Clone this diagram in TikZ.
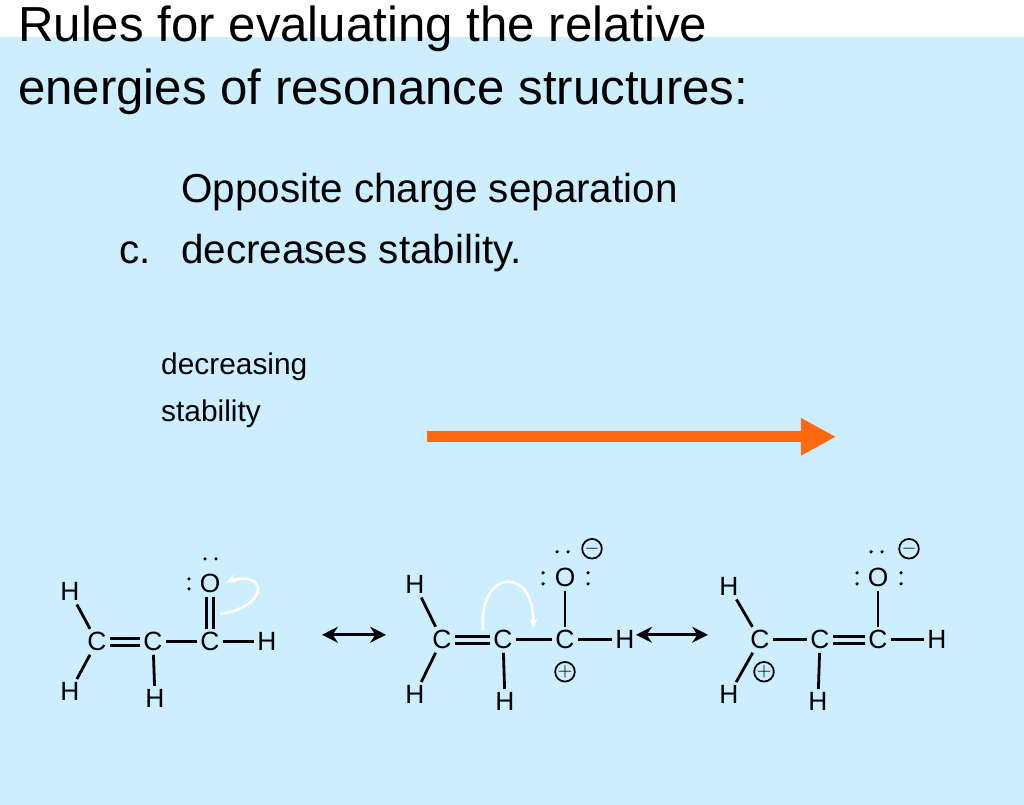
\documentclass[tikz,border=0pt]{standalone}
\usepackage{fontspec}
\setmainfont{Liberation Sans}
\usetikzlibrary{arrows.meta}
\definecolor{bgblue}{HTML}{CCEEFF}
\definecolor{arroworange}{HTML}{FF6A10}

\begin{document}
\begin{tikzpicture}[x=0.02cm,y=-0.02cm,
  atom/.style={inner sep=1pt,font=\fontsize{15}{15}\selectfont},
  bond/.style={line width=1.6pt,shorten <=1pt,shorten >=1pt},
  charge/.style={circle,draw,line width=1pt,inner sep=0pt,minimum size=9pt,font=\fontsize{11}{11}\selectfont},
  lp/.style={circle,fill,inner sep=0pt,minimum size=2pt},
  reson/.style={{Stealth[length=9pt,width=9pt]}-{Stealth[length=9pt,width=9pt]},line width=1.6pt},
  push/.style={white,line width=1.5pt,-{Stealth[length=6pt]}}]

% Background
\fill[bgblue] (0,0) rectangle (1024,768);

% Title and rule
\node[anchor=base west,align=left,font=\fontsize{28}{36}\selectfont] (title) at (12,68)
  {Rules for evaluating the relative\\energies of resonance structures:};
\node[anchor=base west,font=\fontsize{23}{23}\selectfont] (rulec) at (113,227) {c.};
\node[anchor=base west,align=left,font=\fontsize{23}{35}\selectfont] (ruletext) at (175,227)
  {Opposite charge separation\\decreases stability.};

% Stability arrow
\node[anchor=base west,align=left,font=\fontsize{17}{27}\selectfont] (trend) at (155,385)
  {decreasing\\stability};
\coordinate (ta) at (427,400);
\coordinate (tb) at (836,400);
\draw[arroworange,line width=6pt,-{Triangle[length=20pt,width=20pt]}] (ta) -- (tb);

% Structure 1
\node[atom] (a1) at (70,555) {H};
\node[atom] (a2) at (70,655) {H};
\node[atom] (a3) at (97,605) {C};
\node[atom] (a4) at (153,605) {C};
\node[atom] (a5) at (210,605) {C};
\node[atom] (a6) at (267,605) {H};
\node[atom] (a7) at (155,662) {H};
\node[atom] (a8) at (210,547) {O};
\draw[bond] (a1) -- (a3);
\draw[bond] (a2) -- (a3);
\draw[bond] ([yshift=-2pt]a3.east) -- ([yshift=-2pt]a4.west);
\draw[bond] ([yshift=2pt]a3.east) -- ([yshift=2pt]a4.west);
\draw[bond] (a4) -- (a5);
\draw[bond] (a5) -- (a6);
\draw[bond] (a4) -- (a7);
\draw[bond] ([xshift=-2pt]a5.north) -- ([xshift=-2pt]a8.south);
\draw[bond] ([xshift=2pt]a5.north) -- ([xshift=2pt]a8.south);
\node[lp] at (205,522) {}; \node[lp] at (216,522) {};
\node[lp] at (189,542) {}; \node[lp] at (189,552) {};
\draw[push] (220,577) .. controls (262,572) and (270,540) .. (240,542) .. controls (232,543) .. (226,546);

% Resonance arrow 1
\coordinate (r1a) at (322,598);
\coordinate (r1b) at (386,598);
\draw[reson] (r1a) -- (r1b);

% Structure 2
\node[atom] (b1) at (415,548) {H};
\node[atom] (b2) at (415,658) {H};
\node[atom] (b3) at (442,603) {C};
\node[atom] (b4) at (503,603) {C};
\node[atom] (b5) at (565,603) {C};
\node[atom] (b6) at (625,603) {H};
\node[atom] (b7) at (505,665) {H};
\node[atom] (b8) at (565,541) {O};
\draw[bond] (b1) -- (b3);
\draw[bond] (b2) -- (b3);
\draw[bond] ([yshift=-2pt]b3.east) -- ([yshift=-2pt]b4.west);
\draw[bond] ([yshift=2pt]b3.east) -- ([yshift=2pt]b4.west);
\draw[bond] (b4) -- (b5);
\draw[bond] (b5) -- (b6);
\draw[bond] (b4) -- (b7);
\draw[bond] (b5) -- (b8);
\node[lp] at (557,515) {}; \node[lp] at (568,515) {};
\node[lp] at (543,536) {}; \node[lp] at (543,547) {};
\node[lp] at (588,536) {}; \node[lp] at (588,547) {};
\node[charge] (b9) at (565,635) {$+$};
\node[charge] (b10) at (592,512) {$-$};
\draw[push] (483,594) .. controls (478,530) and (535,530) .. (533,592);

% Resonance arrow 2
\coordinate (r2a) at (636,598);
\coordinate (r2b) at (708,598);
\draw[reson] (r2a) -- (r2b);

% Structure 3
\node[atom] (c1) at (729,550) {H};
\node[atom] (c2) at (729,658) {H};
\node[atom] (c3) at (760,603) {C};
\node[atom] (c4) at (820,603) {C};
\node[atom] (c5) at (878,603) {C};
\node[atom] (c6) at (937,603) {H};
\node[atom] (c7) at (818,665) {H};
\node[atom] (c8) at (878,541) {O};
\draw[bond] (c1) -- (c3);
\draw[bond] (c2) -- (c3);
\draw[bond] (c3) -- (c4);
\draw[bond] ([yshift=-2pt]c4.east) -- ([yshift=-2pt]c5.west);
\draw[bond] ([yshift=2pt]c4.east) -- ([yshift=2pt]c5.west);
\draw[bond] (c5) -- (c6);
\draw[bond] (c4) -- (c7);
\draw[bond] (c5) -- (c8);
\node[lp] at (871,515) {}; \node[lp] at (882,515) {};
\node[lp] at (857,536) {}; \node[lp] at (857,547) {};
\node[lp] at (901,536) {}; \node[lp] at (901,547) {};
\node[charge] (c9) at (764,635) {$+$};
\node[charge] (c10) at (909,512) {$-$};

\end{tikzpicture}
\end{document}
